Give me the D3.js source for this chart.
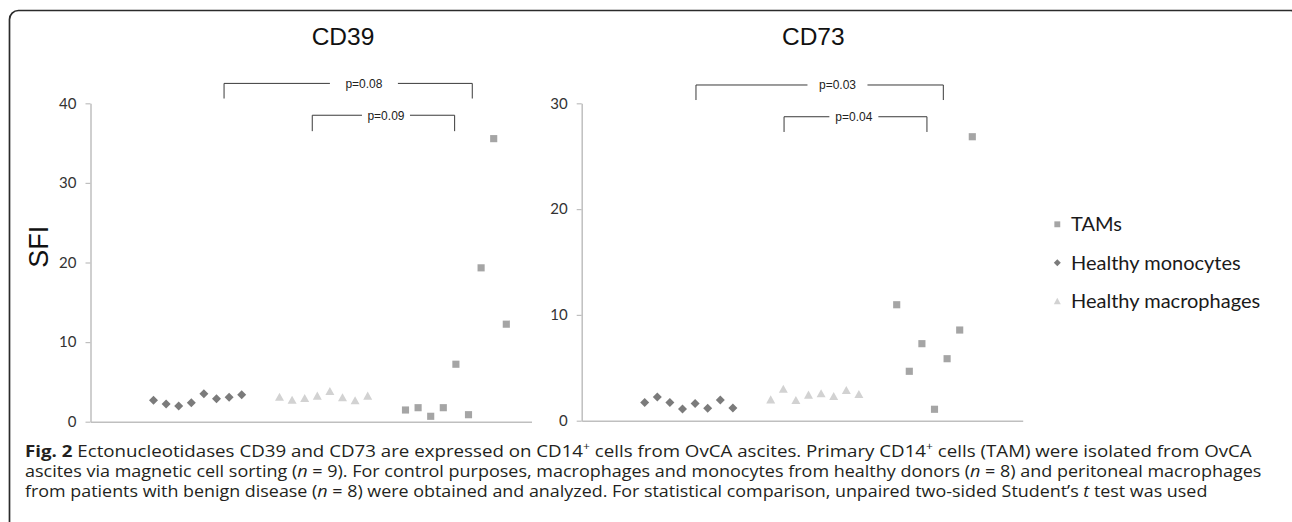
<!DOCTYPE html>
<html><head><meta charset="utf-8">
<script src="https://cdn.jsdelivr.net/npm/d3@7"></script>
<style>body{margin:0;background:#fff}svg{display:block}</style>
</head><body><svg id="c" width="1292" height="522"></svg>
<script>
// ---------- data ----------
const seriesNames = ["TAMs", "Healthy monocytes", "Healthy macrophages"];
const groupStartX = [25, 5, 15];            // x-index of first point of each series (same order as seriesNames)
const cd39TAMs        = [1.47, 1.76, 0.68, 1.76, 7.22, 0.88, 19.33, 35.56, 12.25];
const cd39Monocytes   = [2.69, 2.22, 1.97, 2.39, 3.52, 2.89, 3.07, 3.39];
const cd39Macrophages = [3.14, 2.76, 2.98, 3.27, 3.86, 3.07, 2.69, 3.27];
const cd73TAMs        = [10.96, 4.67, 7.28, 1.08, 5.86, 8.57, 26.84];
const cd73Monocytes   = [1.72, 2.24, 1.72, 1.11, 1.62, 1.17, 1.96, 1.20];
const cd73Macrophages = [2.02, 3.02, 1.96, 2.46, 2.59, 2.33, 2.90, 2.52];
const cd39Ticks = [0, 10, 20, 30, 40];
const cd73Ticks = [0, 10, 20, 30];
const xDomain = [0, 35];
const cd39Pvalues = ["p=0.08", "p=0.09"];
const cd73Pvalues = ["p=0.03", "p=0.04"];
// bracket extents in data units: [xLeft, xRight, xLabel, yBar, yLegEnd]
const cd39BracketSpan = [[10.6, 30.3, 21.7, 42.5, 40.6], [17.6, 28.9, 23.45, 38.5, 36.5]];
const cd73BracketSpan = [[9.07, 28.7, 20.3, 31.73, 30.31], [16.06, 27.4, 21.6, 28.73, 27.29]];

// ---------- styles ----------
const colors = {"TAMs": "#a5a5a5", "Healthy monocytes": "#7b7b7b", "Healthy macrophages": "#d2d2d2"};
const shapes = {"TAMs": "square", "Healthy monocytes": "diamond", "Healthy macrophages": "triangle"};
const svg = d3.select("#c");

function markerPath(shape, s) {
  if (shape === "square") { const h = s * 0.42; return `M${-h},${-h}H${h}V${h}H${-h}Z`; }
  if (shape === "diamond") { const h = s * 0.5; return `M0,${-h}L${h},0L0,${h}L${-h},0Z`; }
  const w = s * 0.5, hh = s * 0.45; return `M0,${-hh}L${w},${hh}L${-w},${hh}Z`;
}

// frame
svg.append("rect").attr("x", 9.5).attr("y", 10.5).attr("width", 1290).attr("height", 600)
  .attr("rx", 9).attr("fill", "none").attr("stroke", "#2b2b2b").attr("stroke-width", 1.7);

function panel(opt) {
  const x = d3.scaleLinear().domain(xDomain).range(opt.xr);
  const y = d3.scaleLinear().domain([0, opt.ticks[opt.ticks.length - 1]]).range(opt.yr);
  const g = svg.append("g");
  // y axis
  const ya = g.append("g").attr("transform", `translate(${opt.xr[0]},0)`)
    .call(d3.axisLeft(y).tickValues(opt.ticks).tickSize(5).tickSizeOuter(0).tickPadding(9));
  ya.select(".domain").attr("stroke", "#bfbfbf").attr("stroke-width", 1.5);
  ya.selectAll(".tick line").attr("stroke", "#bfbfbf").attr("stroke-width", 1.2);
  ya.selectAll(".tick text").attr("font-family", "Lato, 'Open Sans', sans-serif").attr("font-size", 15).attr("fill", "#333");
  // x axis
  const xa = g.append("g").attr("transform", `translate(0,${opt.yr[0]})`)
    .call(d3.axisBottom(x).tickValues([]).tickSizeOuter(0));
  xa.select(".domain").attr("stroke", "#bfbfbf").attr("stroke-width", 1.5);
  // title
  g.append("text").attr("x", opt.titleX).attr("y", 45).attr("text-anchor", "middle")
    .attr("font-family", "Liberation Sans, Arial, sans-serif").attr("font-size", 24.5).attr("fill", "#111").text(opt.title);
  // brackets
  opt.brackets.forEach((b, i) => {
    const [xl, xrr, xm, yb, yl] = b;
    const gap = opt.gaps[i];
    const bg = g.append("g").attr("stroke", "#3a3a3a").attr("stroke-width", 1).attr("fill", "none");
    bg.append("path").attr("d", `M${x(xl)},${y(yl)}V${y(yb)}H${x(xm) - gap}`);
    bg.append("path").attr("d", `M${x(xm) + gap},${y(yb)}H${x(xrr)}V${y(yl)}`);
    g.append("text").attr("x", x(xm)).attr("y", y(yb) + 4.3).attr("text-anchor", "middle")
      .attr("font-family", "Liberation Sans, Arial, sans-serif").attr("font-size", 12).attr("fill", "#222").text(opt.pvals[i]);
  });
  // points
  opt.series.forEach((vals, si) => {
    const name = seriesNames[si];
    g.append("g").selectAll("path").data(vals).join("path")
      .attr("transform", (d, i) => `translate(${x(groupStartX[si] + i)},${y(d)})`)
      .attr("d", markerPath(shapes[name], name === "TAMs" ? 8.5 : 9))
      .attr("fill", colors[name]);
  });
}

panel({xr: [90.5, 531.5], yr: [421.7, 103.3], ticks: cd39Ticks, title: "CD39", titleX: 343,
  series: [cd39TAMs, cd39Monocytes, cd39Macrophages], brackets: cd39BracketSpan, pvals: cd39Pvalues, gaps: [34, 24]});
panel({xr: [581.7, 1022.7], yr: [420.7, 103.3], ticks: cd73Ticks, title: "CD73", titleX: 813.3,
  series: [cd73TAMs, cd73Monocytes, cd73Macrophages], brackets: cd73BracketSpan, pvals: cd73Pvalues, gaps: [30, 24.5]});

// SFI label
svg.append("text").attr("transform", "translate(47.5,246.7) rotate(-90)").attr("text-anchor", "middle")
  .attr("font-family", "Liberation Sans, Arial, sans-serif").attr("font-size", 27).attr("fill", "#111").text("SFI");

// legend
const legY = [224.3, 262.7, 301];
seriesNames.forEach((name, i) => {
  svg.append("path").attr("transform", `translate(1057.3,${legY[i]})`)
    .attr("d", markerPath(shapes[name], 7)).attr("fill", colors[name]);
  svg.append("text").attr("x", 1071).attr("y", legY[i] + 7).attr("font-family", "Lato, sans-serif")
    .attr("font-size", 20).attr("fill", "#1a1a1a").text(name);
});

// caption
const captionLines = [
  [["b", "Fig. 2"], ["", " Ectonucleotidases CD39 and CD73 are expressed on CD14"], ["sup", "+"], ["", " cells from OvCA ascites. Primary CD14"], ["sup", "+"], ["", " cells (TAM) were isolated from OvCA"]],
  [["", "ascites via magnetic cell sorting ("], ["i", "n"], ["", " = 9). For control purposes, macrophages and monocytes from healthy donors ("], ["i", "n"], ["", " = 8) and peritoneal macrophages"]],
  [["", "from patients with benign disease ("], ["i", "n"], ["", " = 8) were obtained and analyzed. For statistical comparison, unpaired two-sided Student’s "], ["i", "t"], ["", " test was used"]]
];
const captionRight = [1253, 1262, 1208];
const captionBase = [456.5, 476.5, 497];
captionLines.forEach((parts, li) => {
  const t = svg.append("text").attr("font-family", "'Open Sans', sans-serif").attr("font-size", 15.5).attr("fill", "#231f20")
    .attr("transform", `translate(25,${captionBase[li]})`);
  parts.forEach(([k, s]) => {
    const ts = t.append("tspan").text(s);
    if (k === "b") ts.attr("font-weight", "bold");
    if (k === "i") ts.attr("font-style", "italic");
    if (k === "sup") { ts.attr("baseline-shift", "super").attr("font-size", 10); }
  });
  const w = t.node().getBBox().width;
  const k = (captionRight[li] - 25) / w;
  t.attr("transform", `translate(25,${captionBase[li]}) scale(${k},1)`);
});
</script></body></html>
